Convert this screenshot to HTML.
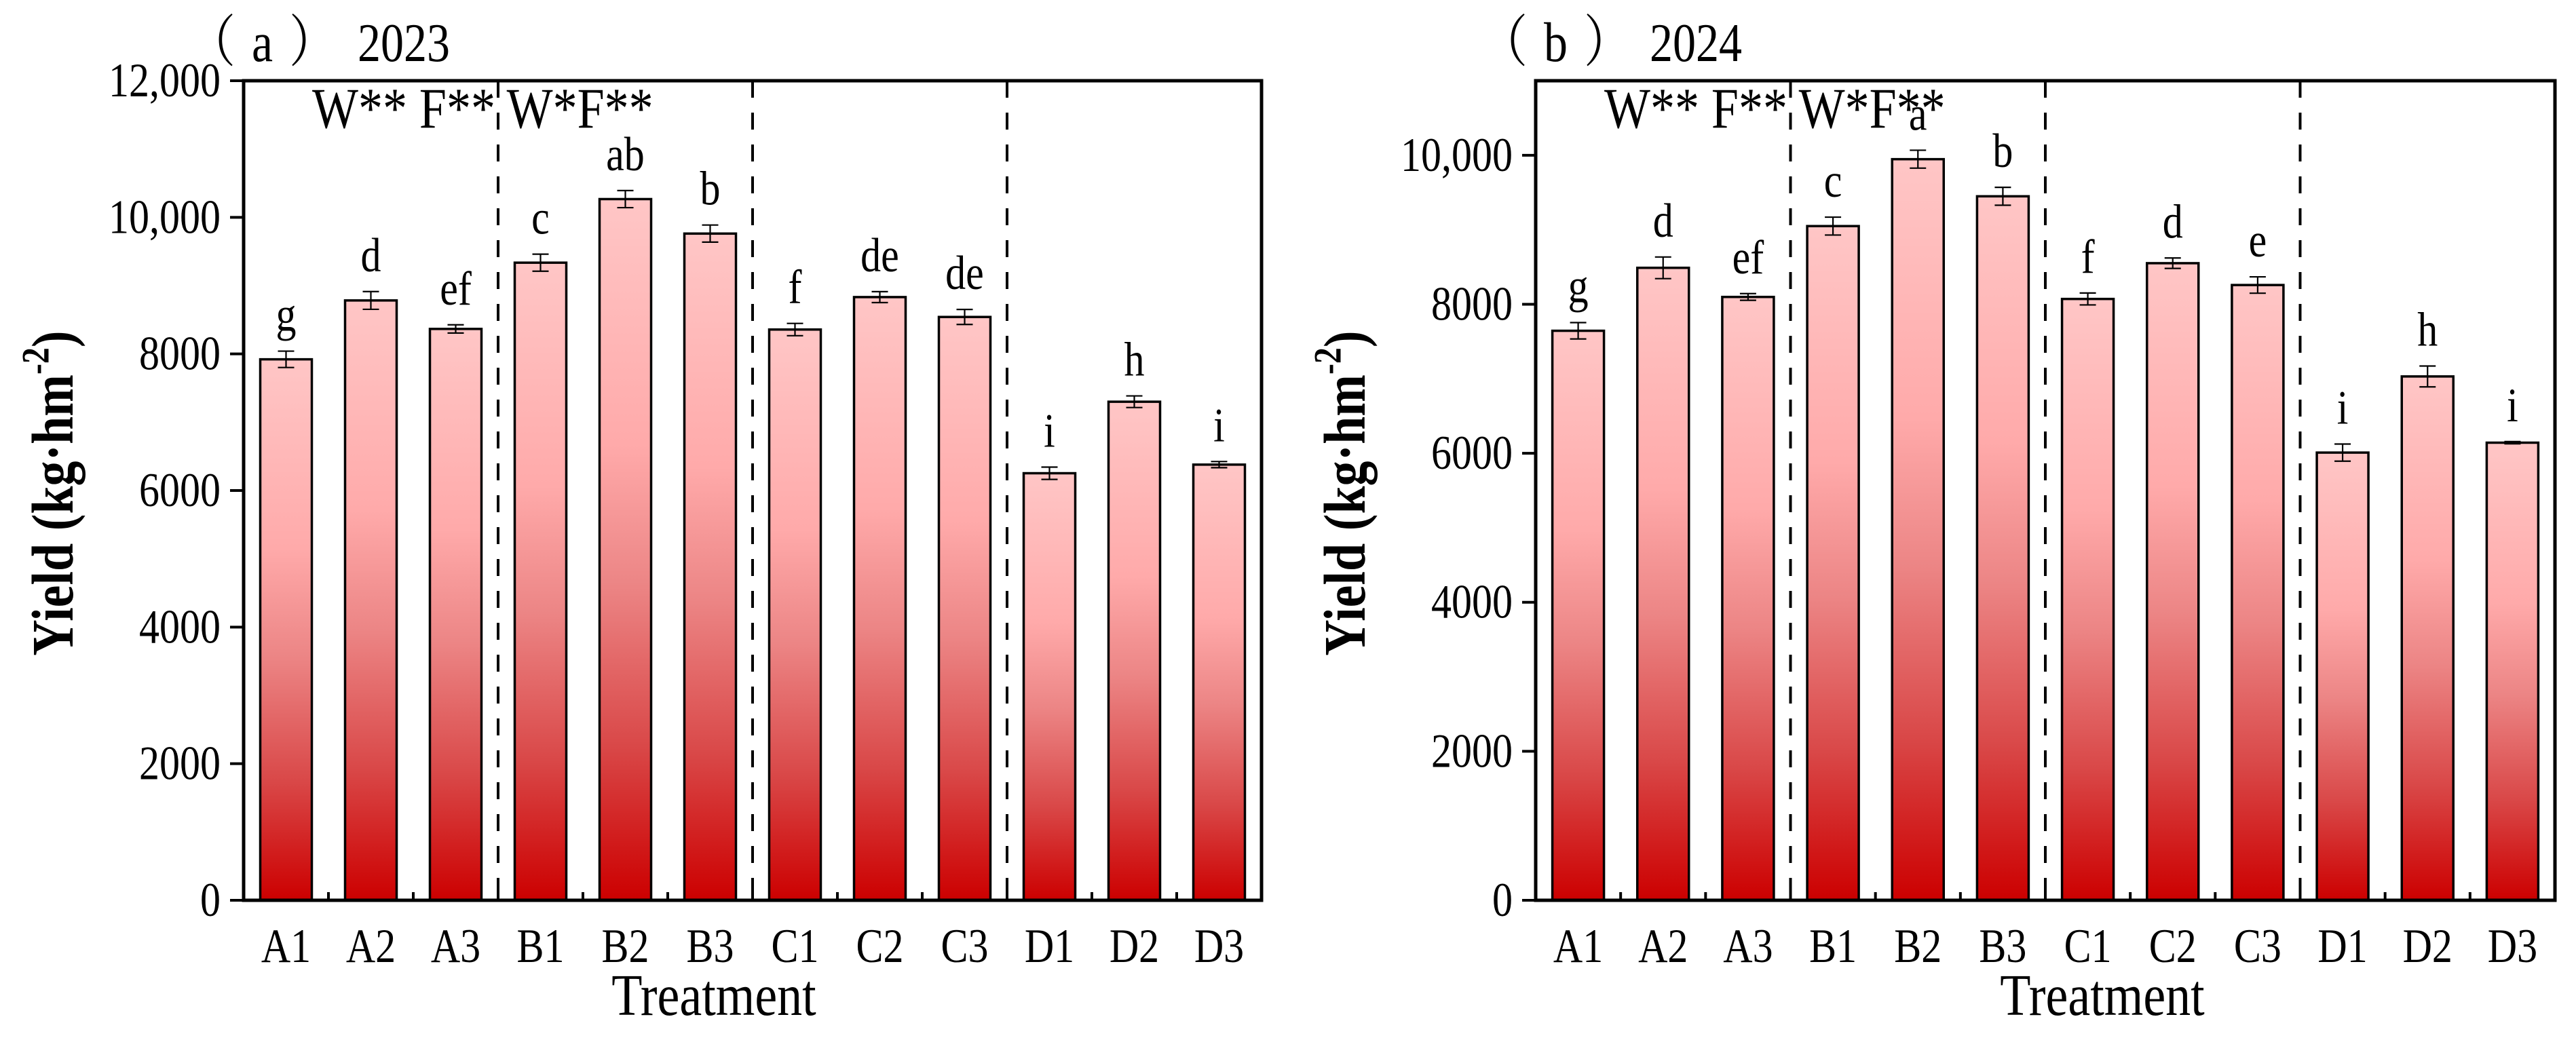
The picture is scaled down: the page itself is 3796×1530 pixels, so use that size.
<!DOCTYPE html>
<html><head><meta charset="utf-8"><style>
html,body{margin:0;padding:0;background:#fff;}
svg{display:block;}
text{font-family:"Liberation Serif","Noto Serif CJK SC",serif;fill:#000;}
</style></head><body>
<svg id="chart" width="3796" height="1530" viewBox="0 0 3796 1530" xmlns="http://www.w3.org/2000/svg">
<defs>
<linearGradient id="barGrad" x1="0" y1="0" x2="0" y2="1">
<stop offset="0" stop-color="#ffc6c6"/>
<stop offset="0.35" stop-color="#ffaaaa"/>
<stop offset="0.55" stop-color="#ec8585"/>
<stop offset="0.78" stop-color="#d94848"/>
<stop offset="1" stop-color="#cc0000"/>
</linearGradient>
</defs>
</svg>
<script>
const categories = ["A1","A2","A3","B1","B2","B3","C1","C2","C3","D1","D2","D3"];
const values2023 = [7921,8783,8366,9336,10267,9762,8357,8832,8541,6253,7300,6379];
const errors2023 = [120,130,60,125,125,125,90,80,110,90,85,45];
const letters2023 = ["g","d","ef","c","ab","b","f","de","de","i","h","i"];
const ticks2023 = [0,2000,4000,6000,8000,10000,12000];
const tickLabels2023 = ["0","2000","4000","6000","8000","10,000","12,000"];
const values2024 = [7644,8489,8098,9049,9947,9449,8071,8551,8258,6009,7031,6142];
const errors2024 = [110,145,45,120,120,120,80,70,110,115,140,15];
const letters2024 = ["g","d","ef","c","a","b","f","d","e","i","h","i"];
const ticks2024 = [0,2000,4000,6000,8000,10000];
const tickLabels2024 = ["0","2000","4000","6000","8000","10,000"];

const NS = "http://www.w3.org/2000/svg";
const svg = document.getElementById("chart");
const VS = 1.18;
function mk(tag, attrs, parent){
  const e = document.createElementNS(NS, tag);
  for (const k in attrs) e.setAttribute(k, attrs[k]);
  (parent||svg).appendChild(e);
  return e;
}
function txt(parent, x, y, str, size, anchor, extra){
  const a = {x: 0, y: 0, "font-size": size, "text-anchor": anchor || "start", transform: "translate(" + x + "," + y + ") scale(1," + VS + ")"};
  if (extra) for (const k in extra) a[k] = extra[k];
  const t = mk("text", a, parent);
  t.textContent = str;
  return t;
}

function panel(cfg){
  const g = mk("g", {});
  
  
  const L = cfg.left, R = cfg.right, T = 119, B = 1327;
  const n = categories.length;
  const step = (R - L) / n;
  const xc = i => L + step * (i + 0.5);
  const y = v => B - (v / cfg.ymax) * (B - T);
  const bw = 76;

  categories.forEach((c, i) => {
    const v = cfg.values[i];
    const r = mk("rect", {x: xc(i) - bw/2, y: y(v), width: bw, height: B - y(v), fill: "url(#barGrad)", stroke: "#000", "stroke-width": 3.5}, g);
    
    
    const e = cfg.errors[i];
    const eg = mk("g", {stroke: "#000", "stroke-width": 2.2}, g);
    
    
    mk("line", {x1: xc(i), x2: xc(i), y1: y(v + e), y2: y(v - e)}, eg);
    mk("line", {x1: xc(i) - 12, x2: xc(i) + 12, y1: y(v + e), y2: y(v + e)}, eg);
    mk("line", {x1: xc(i) - 12, x2: xc(i) + 12, y1: y(v - e), y2: y(v - e)}, eg);
    const t = txt(g, xc(i), y(v + e) - 30, cfg.letters[i], 60, "middle");
    
    
    const xl = txt(g, xc(i), 1418, c, 60, "middle");
    
    
  });

  [3, 6, 9].forEach(k => {
    const d = mk("line", {x1: L + step*k, x2: L + step*k, y1: T, y2: B, stroke: "#000", "stroke-width": 4, "stroke-dasharray": "25 22"}, g);
    
    
  });

  for (let k = 1; k < n; k++) {
    const tk = mk("line", {x1: L + step*k, x2: L + step*k, y1: B, y2: B - 12, stroke: "#000", "stroke-width": 4}, g);
    
    
  }

  cfg.ticks.forEach((tv, i) => {
    const tk = mk("line", {x1: L - 20, x2: L, y1: y(tv), y2: y(tv), stroke: "#000", "stroke-width": 4}, g);
    
    
    const tl = txt(g, L - 34, y(tv) + 23, cfg.tickLabels[i], 60, "end");
    
    
  });

  const fr = mk("rect", {x: L, y: T, width: R - L, height: B - T, fill: "none", stroke: "#000", "stroke-width": 5}, g);
  
  

  const an = txt(g, L + 101, 188, "W** F** W*F**", 72, "start");
  
  

  const tp = txt(g, L - 82, 90, cfg.titleTag, 70, "start", {"letter-spacing": 24});
  
  
  const ti = txt(g, L + 168, 90, cfg.titleYear, 68, "start");
  
  

  const xt = txt(g, cfg.xTitleX, 1496, "Treatment", 74, "middle");
  
  

  const yt = mk("text", {x: 0, y: 0, "text-anchor": "middle", "font-size": 74, "font-weight": "bold", transform: "translate(" + (L - 252) + "," + 727 + ") rotate(-90) scale(1," + VS + ")"}, g);
  
  
  yt.appendChild(document.createTextNode("Yield (kg·hm"));
  const sup = mk("tspan", {dy: -30, "font-size": 48}, yt);
  sup.textContent = "-2";
  const cl = mk("tspan", {dy: 30}, yt);
  cl.textContent = ")";
}

panel({name: "panel-2023", left: 359, right: 1859, ymax: 12000, values: values2023, errors: errors2023, letters: letters2023, ticks: ticks2023, tickLabels: tickLabels2023, titleTag: "（a）", titleYear: "2023", xTitleX: 1052});
panel({name: "panel-2024", left: 2263, right: 3765, ymax: 11000, values: values2024, errors: errors2024, letters: letters2024, ticks: ticks2024, tickLabels: tickLabels2024, titleTag: "（b）", titleYear: "2024", xTitleX: 3098});
</script>
</body></html>
